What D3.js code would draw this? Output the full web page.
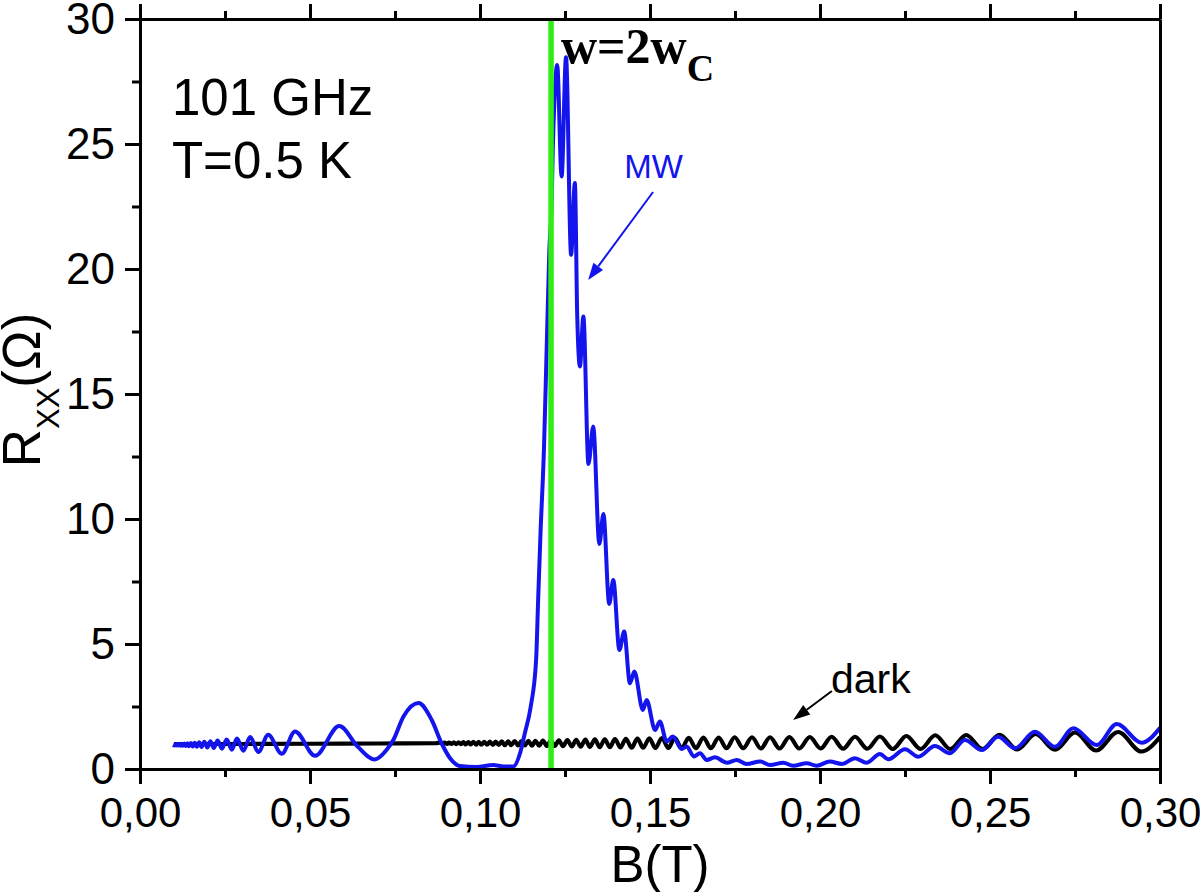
<!DOCTYPE html>
<html><head><meta charset="utf-8">
<script src="https://cdn.jsdelivr.net/npm/d3@7"></script>
<style>html,body{margin:0;padding:0;background:#fff;}svg{display:block;}</style>
</head><body>
<svg id="chart" width="1200" height="892"></svg>
<script>
// ---------- data ----------
const xMajorTicks = [0, 0.05, 0.10, 0.15, 0.20, 0.25, 0.30];
const xMinorTicks = [0.025, 0.075, 0.125, 0.175, 0.225, 0.275];
const yMajorTicks = [0, 5, 10, 15, 20, 25, 30];
const yMinorTicks = [2.5, 7.5, 12.5, 17.5, 22.5, 27.5];

// dark trace: [B (T), Rxx (Ohm)]
const darkData = [
[0.0100,1.00],[0.0300,1.00],[0.0500,1.01],[0.0700,1.02],[0.0870,1.03],
[0.0884,1.06],[0.0890,1.00],[0.0896,1.06],[0.0903,1.00],[0.0909,1.06],[0.0916,1.00],
[0.0923,1.07],[0.0930,0.99],[0.0937,1.07],[0.0944,0.99],[0.0951,1.08],[0.0958,0.98],
[0.0966,1.08],[0.0973,0.98],[0.0981,1.09],[0.0989,0.97],[0.0996,1.09],[0.1004,0.97],
[0.1013,1.09],[0.1021,0.97],[0.1029,1.10],[0.1038,0.96],[0.1046,1.10],[0.1055,0.96],
[0.1064,1.11],[0.1073,0.95],[0.1083,1.11],[0.1092,0.95],[0.1102,1.12],[0.1112,0.94],
[0.1122,1.12],[0.1132,0.94],[0.1142,1.13],[0.1153,0.93],[0.1163,1.13],[0.1174,0.93],
[0.1185,1.14],[0.1197,0.92],[0.1208,1.14],[0.1220,0.92],[0.1232,1.15],[0.1244,0.91],
[0.1257,1.16],[0.1270,0.90],[0.1283,1.17],[0.1296,0.89],[0.1310,1.18],[0.1323,0.88],
[0.1338,1.19],[0.1352,0.87],[0.1367,1.19],[0.1382,0.87],[0.1397,1.20],[0.1413,0.86],
[0.1429,1.21],[0.1446,0.85],[0.1463,1.22],[0.1480,0.85],[0.1498,1.23],[0.1516,0.84],
[0.1535,1.24],[0.1554,0.84],[0.1573,1.25],[0.1593,0.83],[0.1614,1.25],[0.1635,0.83],
[0.1657,1.26],[0.1679,0.83],[0.1702,1.26],[0.1725,0.83],[0.1749,1.27],[0.1774,0.83],
[0.1800,1.27],[0.1826,0.82],[0.1853,1.27],[0.1881,0.82],[0.1910,1.28],[0.1939,0.82],
[0.1970,1.28],[0.2002,0.82],[0.2034,1.29],[0.2068,0.81],[0.2103,1.29],[0.2139,0.81],
[0.2176,1.30],[0.2214,0.80],[0.2254,1.32],[0.2296,0.80],[0.2339,1.35],[0.2383,0.80],
[0.2430,1.36],[0.2478,0.80],[0.2528,1.37],[0.2580,0.78],[0.2634,1.40],[0.2691,0.77],
[0.2750,1.46],[0.2812,0.74],[0.2877,1.48],[0.2945,0.70],[0.3000,1.28]
];

// MW (101 GHz) trace: [B (T), Rxx (Ohm)]
const mwData = [
[0.0097,0.96],[0.0101,0.94],[0.0104,0.99],[0.0107,0.94],[0.0110,1.00],[0.0113,0.94],
[0.0116,1.00],[0.0119,0.93],[0.0123,1.01],[0.0127,0.93],[0.0131,1.02],[0.0135,0.92],
[0.0140,1.03],[0.0145,0.91],[0.0150,1.04],[0.0155,0.90],[0.0161,1.05],[0.0167,0.89],
[0.0174,1.07],[0.0181,0.88],[0.0189,1.09],[0.0198,0.86],[0.0207,1.11],[0.0217,0.84],
[0.0228,1.14],[0.0241,0.81],[0.0255,1.18],[0.0270,0.77],[0.0285,1.22],[0.0304,0.73],
[0.0324,1.28],[0.0348,0.68],[0.0377,1.37],[0.0417,0.61],[0.0456,1.50],[0.0515,0.53],
[0.0586,1.72],[0.0640,0.90],[0.0690,0.38],[0.0725,0.76],[0.0745,1.16],[0.0775,2.10],
[0.0819,2.64],[0.0858,1.96],[0.0887,1.03],[0.0912,0.43],[0.0941,0.12],[0.0990,0.08],
[0.1039,0.16],[0.1070,0.10],[0.1098,0.10],[0.1118,0.64],[0.1132,1.44],[0.1149,2.48],
[0.1165,4.36],[0.1171,6.76],[0.1178,9.44],[0.1188,12.76],[0.1196,16.76],[0.1204,20.76],
[0.1211,22.76],[0.1214,24.76],[0.1219,26.76],[0.1227,28.16],[0.1240,23.70],[0.1253,28.47],
[0.1268,20.56],[0.1279,23.44],[0.1286,18.10],[0.1294,16.10],[0.1304,18.10],[0.1319,12.20],
[0.1333,13.70],[0.1351,9.00],[0.1363,10.20],[0.1380,6.60],[0.1392,7.56],[0.1410,4.76],
[0.1424,5.50],[0.1441,3.43],[0.1454,3.90],[0.1479,2.36],[0.1490,2.76],[0.1515,1.56],
[0.1529,1.90],[0.1549,1.10],[0.1567,1.30],[0.1593,0.80],[0.1608,0.90],[0.1629,0.50],
[0.1647,0.63],[0.1667,0.36],[0.1691,0.47],[0.1726,0.25],[0.1755,0.36],[0.1784,0.20],
[0.1824,0.30],[0.1853,0.16],[0.1892,0.25],[0.1921,0.13],[0.1961,0.23],[0.1990,0.13],
[0.2029,0.30],[0.2064,0.20],[0.2103,0.43],[0.2137,0.25],[0.2176,0.60],[0.2201,0.39],
[0.2250,0.79],[0.2289,0.49],[0.2338,0.92],[0.2382,0.63],[0.2426,1.16],[0.2476,0.76],
[0.2524,1.29],[0.2574,0.83],[0.2632,1.49],[0.2691,0.89],[0.2745,1.63],[0.2814,0.96],
[0.2873,1.80],[0.2946,1.05],[0.3000,1.65]
];

const resonanceB = 0.1209;   // w = 2 w_C marker
const infoLines = ["101 GHz", "T=0.5 K"];

// ---------- layout ----------
const svg = d3.select("#chart");
const L = 140, R = 1160, T = 19, B = 769;
const x = d3.scaleLinear().domain([0, 0.30]).range([L, R]);
const y = d3.scaleLinear().domain([0, 30]).range([B, T]);

const sansFont = "Arial, 'Liberation Sans', sans-serif";
const serifFont = "'Times New Roman', 'Liberation Serif', serif";
const blue = "#1414ec";

svg.append("defs").append("clipPath").attr("id", "clip")
  .append("rect").attr("x", L).attr("y", T - 2).attr("width", R - L).attr("height", B - T + 4);

// ---------- curves ----------
const line = d3.line().x(d => x(d[0])).y(d => y(d[1])).curve(d3.curveMonotoneX);
const plot = svg.append("g").attr("clip-path", "url(#clip)");
plot.append("path").datum(darkData).attr("d", line)
  .attr("fill", "none").attr("stroke", "#000").attr("stroke-width", 4.2).attr("stroke-linejoin", "round");
plot.append("path").datum(mwData).attr("d", line)
  .attr("fill", "none").attr("stroke", blue).attr("stroke-width", 4).attr("stroke-linejoin", "round");
plot.append("line").attr("x1", x(resonanceB)).attr("x2", x(resonanceB))
  .attr("y1", y(30)).attr("y2", y(0)).attr("stroke", "#2eee14").attr("stroke-width", 5.5);

// ---------- axes ----------
function styleAxis(g) {
  g.selectAll("path").attr("stroke", "#000").attr("stroke-width", 3);
  g.selectAll("line").attr("stroke", "#000").attr("stroke-width", 3);
  g.selectAll("text").attr("font-family", sansFont).attr("fill", "#000");
}
const fmtX = d => d.toFixed(2).replace(".", ",");

const gx = svg.append("g").attr("transform", `translate(0,${B})`)
  .call(d3.axisBottom(x).tickValues(xMajorTicks).tickSize(15).tickSizeOuter(0).tickPadding(13).tickFormat(fmtX));
gx.call(styleAxis); gx.selectAll("text").attr("font-size", 42);
svg.append("g").attr("transform", `translate(0,${B})`)
  .call(d3.axisBottom(x).tickValues(xMinorTicks).tickSize(8).tickSizeOuter(0).tickFormat(""))
  .call(styleAxis);

svg.append("g").attr("transform", `translate(0,${T})`)
  .call(d3.axisTop(x).tickValues(xMajorTicks).tickSize(15).tickSizeOuter(0).tickFormat(""))
  .call(styleAxis);
svg.append("g").attr("transform", `translate(0,${T})`)
  .call(d3.axisTop(x).tickValues(xMinorTicks).tickSize(8).tickSizeOuter(0).tickFormat(""))
  .call(styleAxis);

const gy = svg.append("g").attr("transform", `translate(${L},0)`)
  .call(d3.axisLeft(y).tickValues(yMajorTicks).tickSize(15).tickSizeOuter(0).tickPadding(10).tickFormat(d3.format("d")));
gy.call(styleAxis); gy.selectAll("text").attr("font-size", 44);
svg.append("g").attr("transform", `translate(${L},0)`)
  .call(d3.axisLeft(y).tickValues(yMinorTicks).tickSize(8).tickSizeOuter(0).tickFormat(""))
  .call(styleAxis);

svg.append("g").attr("transform", `translate(${R},0)`)
  .call(d3.axisRight(y).tickValues([]).tickSizeOuter(0))
  .call(styleAxis);

// ---------- axis titles ----------
svg.append("text").attr("x", (L + R) / 2 + 10).attr("y", 882)
  .attr("text-anchor", "middle").attr("font-family", sansFont).attr("font-size", 51).text("B(T)");

const yt = svg.append("text").attr("transform", `translate(40,${(T + B) / 2 - 4}) rotate(-90)`)
  .attr("text-anchor", "middle").attr("font-family", sansFont).attr("font-size", 53);
yt.append("tspan").text("R");
yt.append("tspan").attr("font-size", 31).attr("dy", 19).text("XX");
yt.append("tspan").attr("dy", -19).text("(Ω)");

// ---------- annotations (placed in data coordinates) ----------
svg.append("text").attr("font-family", sansFont).attr("font-size", 51)
  .selectAll("tspan").data(infoLines).join("tspan")
  .attr("x", x(0.0094)).attr("y", (d, i) => y(i === 0 ? 26.16 : 23.64)).text(d => d);

const wt = svg.append("text").attr("x", x(0.1238)).attr("y", y(28.24))
  .attr("font-family", serifFont).attr("font-weight", "bold").attr("font-size", 50);
wt.append("tspan").text("w=2w");
wt.append("tspan").attr("font-size", 38).attr("dy", 18).text("C");

svg.append("text").attr("x", x(0.1424)).attr("y", y(23.64))
  .attr("font-family", sansFont).attr("font-size", 33).attr("fill", blue).text("MW");
svg.append("text").attr("x", x(0.2032)).attr("y", y(3.04))
  .attr("font-family", sansFont).attr("font-size", 41).attr("fill", "#000").text("dark");

function arrow(b0, r0, b1, r1, color) {
  const x0 = x(b0), y0 = y(r0), x1 = x(b1), y1 = y(r1);
  const ang = Math.atan2(y1 - y0, x1 - x0), len = 17, half = 6;
  const bx = x1 - len * Math.cos(ang), by = y1 - len * Math.sin(ang);
  svg.append("line").attr("x1", x0).attr("y1", y0).attr("x2", bx).attr("y2", by)
    .attr("stroke", color).attr("stroke-width", 2);
  const px = -Math.sin(ang) * half, py = Math.cos(ang) * half;
  svg.append("path")
    .attr("d", `M${x1},${y1}L${bx + px},${by + py}L${bx - px},${by - py}Z`)
    .attr("fill", color);
}
arrow(0.1509, 23.08, 0.1318, 19.56, blue);
arrow(0.2035, 3.12, 0.1921, 1.96, "#000");
</script>
</body></html>
